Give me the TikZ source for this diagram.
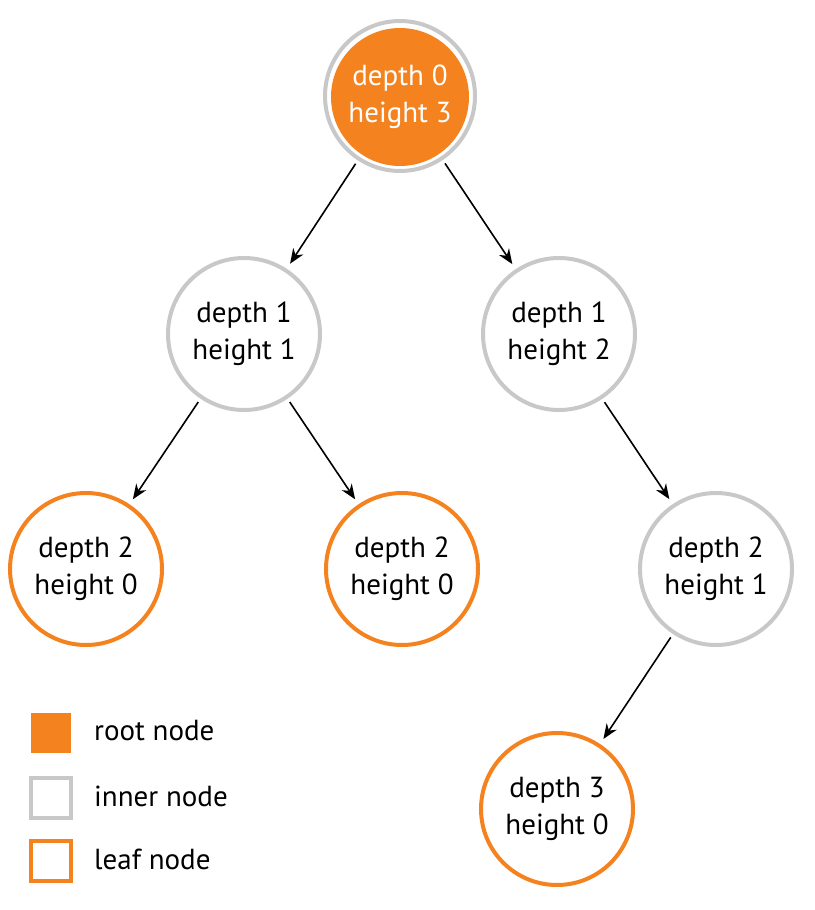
\documentclass[tikz,border=0pt]{standalone}
\usepackage{fontspec}
\setmainfont{PT Sans}
\usetikzlibrary{arrows.meta}
\definecolor{orng}{HTML}{F4821F}
\definecolor{gry}{HTML}{C8C8C8}
\begin{document}
\begin{tikzpicture}[x=1pt,y=-1pt,
  lbl/.style={align=center,font=\fontsize{29}{37}\selectfont,inner sep=0pt},
  inner/.style={circle,draw=gry,line width=4pt,minimum size=152pt,lbl},
  leaf/.style={circle,draw=orng,line width=4pt,minimum size=152pt,lbl},
  rootn/.style={circle,fill=orng,minimum size=138pt,text=white,lbl},
  ring/.style={circle,draw=gry,line width=4pt,minimum size=150pt},
  edge/.style={-{Stealth[length=15pt,width=12pt]},line width=1.6pt,shorten >=6pt,shorten <=4pt},
  lgd/.style={minimum size=40pt,inner sep=0pt,line width=3.5pt},
  ltxt/.style={anchor=west,font=\fontsize{29}{32}\selectfont,inner sep=0pt}]
\useasboundingbox (0,0) rectangle (814,910);
\node[ring] (rr) at (400,96) {};
\node[rootn] (r) at (400,97) {depth 0\\height 3};
\node[inner] (a) at (244,334) {depth 1\\height 1};
\node[inner] (b) at (559,334) {depth 1\\height 2};
\node[leaf] (c) at (86,569) {depth 2\\height 0};
\node[leaf] (d) at (402,569) {depth 2\\height 0};
\node[inner] (e) at (716,569) {depth 2\\height 1};
\node[leaf] (f) at (557,809) {depth 3\\height 0};
\draw[edge] (rr) -- (a);
\draw[edge] (rr) -- (b);
\draw[edge] (a) -- (c);
\draw[edge] (a) -- (d);
\draw[edge] (b) -- (e);
\draw[edge] (e) -- (f);
\node[lgd,fill=orng] (l1) at (51,733) {};
\node[lgd,draw=gry,fill=white] (l2) at (51,798) {};
\node[lgd,draw=orng,fill=white] (l3) at (51,861) {};
\node[ltxt] (t1) at (94,731) {root node};
\node[ltxt] (t2) at (94,796) {inner node};
\node[ltxt] (t3) at (94,859) {leaf node};
\end{tikzpicture}
\end{document}
